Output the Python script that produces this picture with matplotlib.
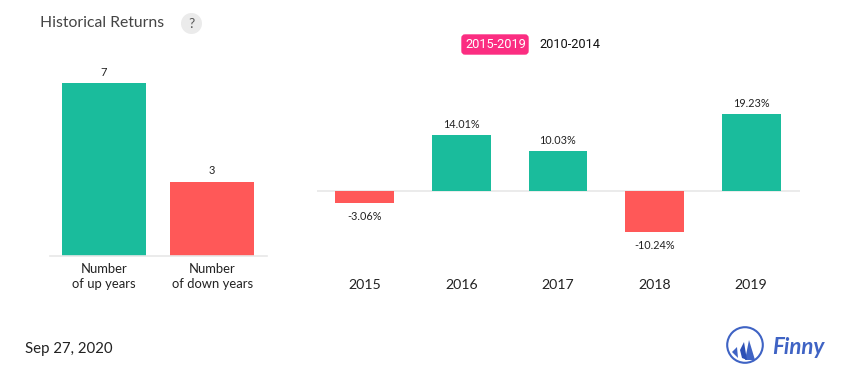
import matplotlib
matplotlib.use('Agg')
import matplotlib.pyplot as plt
from matplotlib.patches import Circle, FancyBboxPatch, Polygon

W, H = 855, 382

count_labels = ['Number\nof up years', 'Number\nof down years']
count_values = [7, 3]
years = ['2015', '2016', '2017', '2018', '2019']
returns = [-3.06, 14.01, 10.03, -10.24, 19.23]

GREEN = '#1abc9c'
RED = '#ff5858'
GRID = '#e8e8e8'
TEXT = '#222222'

plt.rcParams['font.family'] = ['Lato', 'DejaVu Sans']
fig = plt.figure(figsize=(W / 100, H / 100), dpi=100)


def px_axes(x0, y0, x1, y1):
    # pixel box, y measured from the top
    return fig.add_axes([x0 / W, 1 - y1 / H, (x1 - x0) / W, (y1 - y0) / H])


# left chart
ax = px_axes(49.5, 60, 266.5, 255.5)
bars = ax.bar(range(2), count_values, width=0.778,
              color=[GREEN if i == 0 else RED for i in range(2)])
ax.set_xlim(-0.5, 1.5)
ax.set_ylim(0, 195.5 / 24.6)
for b, v in zip(bars, count_values):
    ax.annotate(str(v), (b.get_x() + b.get_width() / 2, v), xytext=(0, 4),
                textcoords='offset points', ha='center', va='bottom', fontsize=8, color=TEXT)
ax.set_xticks(range(2), count_labels, fontsize=9.4, color=TEXT, linespacing=1.3)
ax.tick_params(axis='x', length=0, pad=5.5)
ax.set_yticks([])
for s in ['top', 'left', 'right']:
    ax.spines[s].set_visible(False)
ax.spines['bottom'].set_color(GRID)
ax.spines['bottom'].set_linewidth(1.2)

# right chart
ax2 = px_axes(316.5, 70, 799.5, 260)
colors = [GREEN if r >= 0 else RED for r in returns]
bars2 = ax2.bar(range(5), returns, width=0.61, color=colors)
ax2.set_xlim(-0.5, 4.5)
ax2.set_ylim(-69 / 4.0, 121 / 4.0)
ax2.axhline(0, color=GRID, lw=1.2, zorder=0)
for i, r in enumerate(returns):
    off = 3.5 if r >= 0 else -5.5
    ax2.annotate(f'{r:.2f}%', (i, r), xytext=(0, off), textcoords='offset points',
                 ha='center', va='bottom' if r >= 0 else 'top', fontsize=7.8, color=TEXT)
ax2.set_xticks(range(5), years, fontsize=10.2, color=TEXT)
ax2.tick_params(axis='x', length=0, pad=14)
ax2.set_yticks([])
for s in ax2.spines.values():
    s.set_visible(False)

# page furniture, in pixels
ov = fig.add_axes([0, 0, 1, 1], facecolor='none')
ov.set_xlim(0, W)
ov.set_ylim(H, 0)
ov.axis('off')
ov.text(40, 23, 'Historical Returns', fontsize=11.3, color='#444444', va='center')
ov.add_patch(Circle((191.5, 23.5), 10.5, color='#ebebeb', lw=0))
ov.text(191.5, 23.5, '?', fontsize=10, color='#555555', ha='center', va='center')
ov.add_patch(FancyBboxPatch((462, 35), 66, 19, boxstyle='round,pad=0,rounding_size=3',
                            fc='#fb2d81', ec='#fb2d81', lw=1))
ov.text(495.5, 44.7, '2015-2019', fontsize=9.2, color='white', ha='center', va='center',
        family='Roboto')
ov.text(570, 44.7, '2010-2014', fontsize=9.2, color='#111111', ha='center', va='center',
        family='Roboto')
ov.text(25, 349, 'Sep 27, 2020', fontsize=10.85, color=TEXT, va='center')

# logo
ov.add_patch(Circle((745, 345), 17.8, fc='none', ec='#3f63c4', lw=1.5))
ov.add_patch(Polygon([[749, 340], [755, 360], [745, 360]], fc='#3f63c4', lw=0))
ov.add_patch(Polygon([[744, 342], [740, 350], [742, 358], [747, 360]], fc='#2c4fb5', lw=0))
ov.add_patch(Polygon([[737, 347], [732, 352], [738, 358]], fc='#3f63c4', lw=0))
ov.text(772, 348, 'Finny', fontsize=16, color='#3f63c4', va='center', style='italic',
        weight='bold', family='Lato')

fig.savefig('out.png', dpi=100)
